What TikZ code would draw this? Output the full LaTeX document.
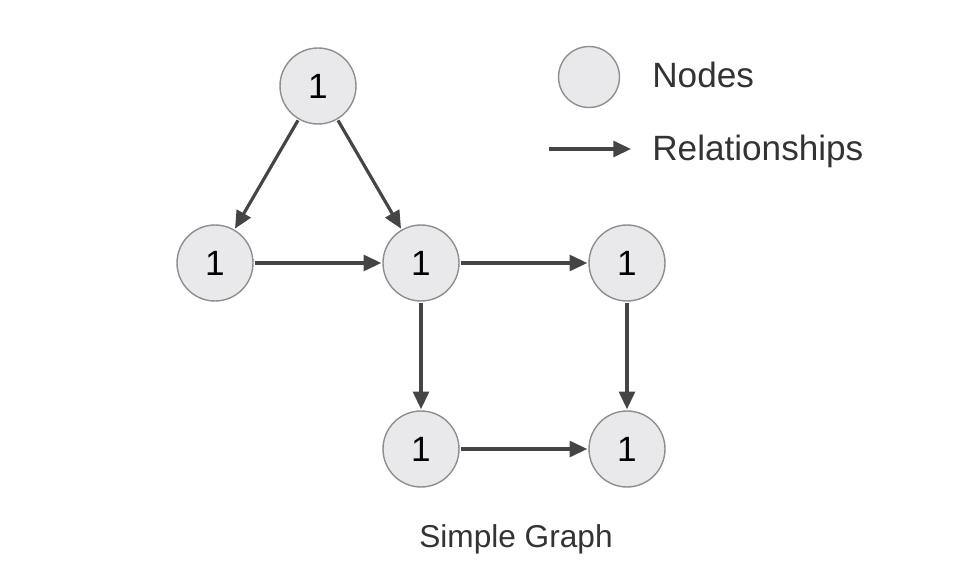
\documentclass[tikz,border=0pt]{standalone}
\usepackage{fontspec}
\setmainfont{Liberation Sans}
\usepackage{tikz}
\usetikzlibrary{arrows.meta}
\usetikzlibrary{positioning}

\definecolor{nodefill}{HTML}{E9E9EC}
\definecolor{nodeline}{HTML}{8E8E8E}
\definecolor{reldark}{HTML}{454545}
\definecolor{labeltext}{HTML}{333333}

\begin{document}
\begin{tikzpicture}[
x=0.02cm, y=-0.02cm,
graphnode/.style={
    circle,
    draw=nodeline,
    fill=nodefill,
    line width=0.8pt,
    minimum size=1.52cm,
    inner sep=0pt, % No inner spacing
    outer sep=1pt,
    font=\fontsize{20}{24}\selectfont,
},
relarrow/.style={
    draw=reldark,
    line width=1.8pt,
    -{Triangle[length=10pt,width=9pt]},
},
legendtext/.style={
    anchor=base west,
    inner sep=0pt,
    text=labeltext,
    font=\fontsize{20}{24}\selectfont,
},
]
\useasboundingbox (0,0) rectangle (980,584);

\node[graphnode] (top) at (318,86) {1};
\node[graphnode] (left) at (215,263) {1};
\node[graphnode] (mid) at (421,263) {1};
\node[graphnode] (right) at (627,263) {1};
\node[graphnode] (botmid) at (421,449) {1};
\node[graphnode] (botright) at (627,449) {1};

\draw[relarrow] (top) -- (left);
\draw[relarrow] (top) -- (mid);
\draw[relarrow] (left) -- (mid);
\draw[relarrow] (mid) -- (right);
\draw[relarrow] (mid) -- (botmid);
\draw[relarrow] (right) -- (botright);
\draw[relarrow] (botmid) -- (botright);

% legend
\node[graphnode, minimum size=1.22cm] (legnode) at (589,77) {};
\node[legendtext] (legnodetext) at (652,88) {Nodes};
\coordinate (legarrowstart) at (549,149);
\coordinate (legarrowend) at (631,149);
\draw[relarrow] (legarrowstart) -- (legarrowend);
\node[legendtext] (legreltext) at (652,161) {Relationships};

\node[anchor=base, inner sep=0pt, text=labeltext, font=\fontsize{18}{22}\selectfont] (caption) at (516,547) {Simple Graph};

\end{tikzpicture}
\end{document}
